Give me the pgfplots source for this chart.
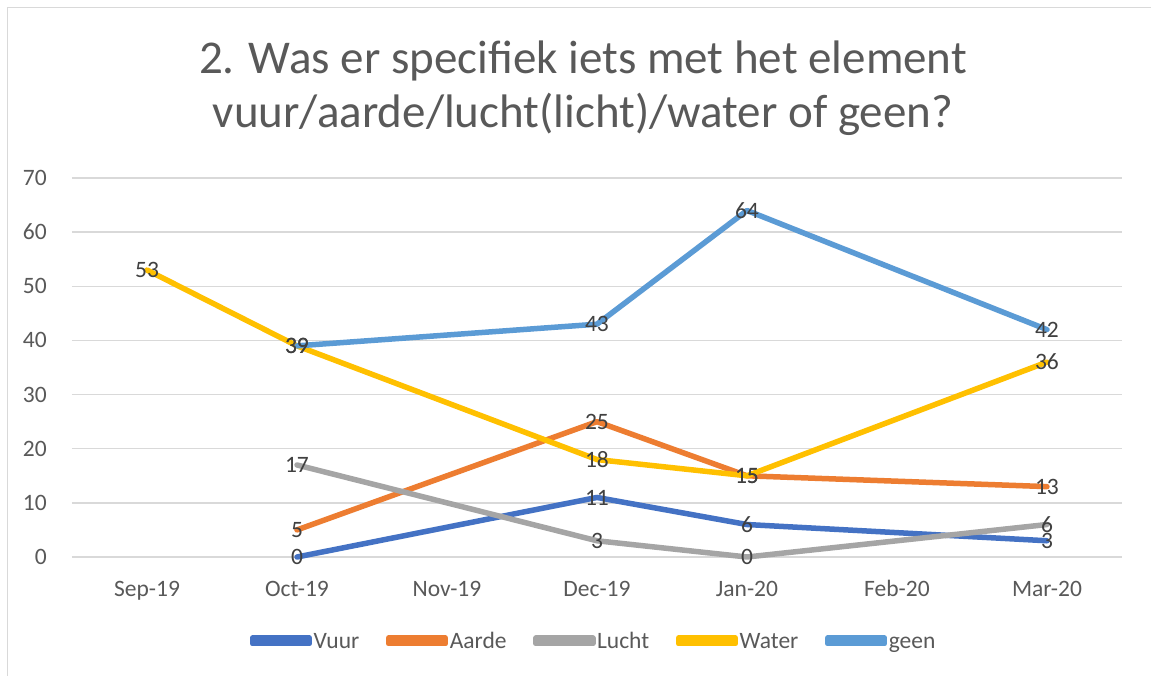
\documentclass[border=0pt]{standalone}
\usepackage{fontspec}
\setmainfont{Carlito}
\usepackage{pgfplots}
\usepackage{pgfplotstable}
\pgfplotsset{compat=1.18}
\definecolor{cvuur}{HTML}{4472C4}
\definecolor{caarde}{HTML}{ED7D31}
\definecolor{clucht}{HTML}{A5A5A5}
\definecolor{cwater}{HTML}{FFC000}
\definecolor{cgeen}{HTML}{5B9BD5}
\definecolor{gridgray}{HTML}{D9D9D9}
\definecolor{textgray}{HTML}{595959}
\definecolor{labelgray}{HTML}{404040}
\pgfplotstableread{
x y
1 0
3 11
4 6
6 3
}\vuur
\pgfplotstableread{
x y
1 5
3 25
4 15
6 13
}\aarde
\pgfplotstableread{
x y
1 17
3 3
4 0
6 6
}\lucht
\pgfplotstableread{
x y
0 53
1 39
3 18
4 15
6 36
}\water
\pgfplotstableread{
x y
1 39
3 43
4 64
6 42
}\geen
\begin{document}
\begin{tikzpicture}
\useasboundingbox (0pt,0pt) rectangle (1151pt,-675pt);
\fill[white] (0pt,0pt) rectangle (1151pt,-675pt);
\draw[gridgray, line width=1.5pt] (7.5pt,-700pt) -- (7.5pt,-7.5pt) -- (1170pt,-7.5pt);
\node[anchor=base, text=textgray, font=\fontsize{47}{56}\selectfont, inner sep=0pt] at (583pt,-73pt) {2. Was er specifiek iets met het element};
\node[anchor=base, text=textgray, font=\fontsize{47}{56}\selectfont, inner sep=0pt] at (583pt,-127pt) {vuur/aarde/lucht(licht)/water of geen?};
\begin{axis}[
  at={(72pt,-557pt)}, anchor=south west,
  width=1050pt, height=379pt, scale only axis,
  xmin=-0.5, xmax=6.5, ymin=0, ymax=70,
  ytick={0,10,...,70},
  xtick={0,...,6},
  xticklabels={Sep-19,Oct-19,Nov-19,Dec-19,Jan-20,Feb-20,Mar-20},
  axis line style={draw=none},
  major tick length=0pt,
  ymajorgrids,
  grid style={gridgray, line width=1.5pt},
  clip=false,
  /pgf/number format/assume math mode=true,
  yticklabel style={anchor=east, inner sep=0pt, xshift=-25pt, font=\fontsize{23.5}{28}\selectfont, text=textgray},
  xticklabel style={anchor=base, inner sep=0pt, yshift=-39pt, font=\fontsize{23.5}{28}\selectfont, text=textgray},
  every axis plot/.append style={line width=5.5pt, line cap=round, line join=round},
  legend columns=5,
  legend style={at={(0.4965,-0.2216)}, anchor=center, draw=none, fill=none,
    font=\fontsize{23.5}{28}\selectfont, text=textgray,
    nodes={inner xsep=1.5pt, inner ysep=0pt, text height=15.1pt, text depth=0pt},
    /tikz/column sep=0pt,
    /tikz/every even column/.append style={column sep=25pt}},
  legend image code/.code={\path (0pt,-2.75pt) rectangle (57pt,2.75pt);
    \draw[#1, line width=5.5pt, line cap=round] (2.75pt,0pt) -- (54.25pt,0pt);},
]
\addplot[cvuur] table[x=x,y=y] {\vuur};
\addlegendentry{Vuur}
\addplot[caarde] table[x=x,y=y] {\aarde};
\addlegendentry{Aarde}
\addplot[clucht] table[x=x,y=y] {\lucht};
\addlegendentry{Lucht}
\addplot[cwater] table[x=x,y=y] {\water};
\addlegendentry{Water}
\addplot[cgeen] table[x=x,y=y] {\geen};
\addlegendentry{geen}
\pgfplotsset{every node near coord/.style={anchor=center, inner sep=0pt, font=\fontsize{23.5}{28}\selectfont, text=labelgray}}
\addplot[draw=none, forget plot, nodes near coords] table[x=x,y=y] {\vuur};
\addplot[draw=none, forget plot, nodes near coords] table[x=x,y=y] {\aarde};
\addplot[draw=none, forget plot, nodes near coords] table[x=x,y=y] {\lucht};
\addplot[draw=none, forget plot, nodes near coords] table[x=x,y=y] {\water};
\addplot[draw=none, forget plot, nodes near coords] table[x=x,y=y] {\geen};
\end{axis}
\end{tikzpicture}
\end{document}
